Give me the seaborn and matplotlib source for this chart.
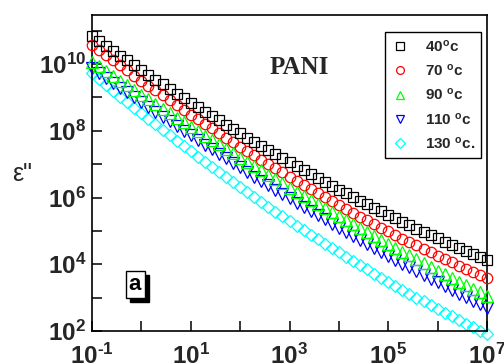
import numpy as np
import pandas as pd
import matplotlib
matplotlib.use("Agg")
import matplotlib.pyplot as plt
import seaborn as sns
from matplotlib.ticker import FixedLocator, FixedFormatter, NullFormatter

# ---------------- data ----------------
freq = np.logspace(-1, 7, 57)  # frequency sweep (Hz), 7 points per decade

log_eps_40 = [10.85, 10.70, 10.55, 10.40, 10.25, 10.11, 9.96, 9.82, 9.67, 9.53,
              9.39, 9.25, 9.11, 8.98, 8.84, 8.71, 8.57, 8.44, 8.31, 8.18,
              8.05, 7.92, 7.79, 7.66, 7.54, 7.42, 7.29, 7.17, 7.05, 6.93,
              6.81, 6.70, 6.58, 6.46, 6.35, 6.24, 6.13, 6.02, 5.91, 5.80,
              5.69, 5.59, 5.48, 5.38, 5.27, 5.17, 5.07, 4.97, 4.87, 4.78,
              4.68, 4.59, 4.49, 4.40, 4.31, 4.22, 4.13]
log_eps_70 = [10.58, 10.42, 10.27, 10.11, 9.96, 9.81, 9.65, 9.50, 9.35, 9.21,
              9.06, 8.91, 8.77, 8.63, 8.48, 8.34, 8.20, 8.07, 7.93, 7.79,
              7.66, 7.52, 7.39, 7.26, 7.13, 7.00, 6.87, 6.75, 6.62, 6.50,
              6.37, 6.25, 6.13, 6.01, 5.89, 5.78, 5.66, 5.54, 5.43, 5.32,
              5.21, 5.10, 4.99, 4.88, 4.77, 4.67, 4.57, 4.46, 4.36, 4.26,
              4.16, 4.06, 3.96, 3.87, 3.77, 3.68, 3.59]
log_eps_90 = [10.07, 9.93, 9.78, 9.64, 9.50, 9.36, 9.22, 9.08, 8.94, 8.80,
              8.66, 8.53, 8.39, 8.26, 8.12, 7.99, 7.85, 7.72, 7.59, 7.46,
              7.32, 7.19, 7.06, 6.94, 6.81, 6.68, 6.55, 6.43, 6.30, 6.18,
              6.05, 5.93, 5.80, 5.68, 5.56, 5.44, 5.32, 5.20, 5.08, 4.96,
              4.84, 4.73, 4.61, 4.50, 4.38, 4.27, 4.15, 4.04, 3.93, 3.81,
              3.70, 3.59, 3.48, 3.37, 3.27, 3.16, 3.05]
log_eps_110 = [9.89, 9.74, 9.59, 9.44, 9.29, 9.15, 9.00, 8.86, 8.71, 8.57,
               8.42, 8.28, 8.14, 8.00, 7.86, 7.72, 7.58, 7.44, 7.31, 7.17,
               7.03, 6.90, 6.77, 6.63, 6.50, 6.37, 6.24, 6.11, 5.98, 5.85,
               5.73, 5.60, 5.47, 5.35, 5.22, 5.10, 4.98, 4.86, 4.73, 4.61,
               4.49, 4.38, 4.26, 4.14, 4.02, 3.91, 3.79, 3.68, 3.57, 3.46,
               3.34, 3.23, 3.12, 3.01, 2.91, 2.80, 2.69]
log_eps_130 = [9.72, 9.54, 9.37, 9.19, 9.02, 8.85, 8.68, 8.52, 8.35, 8.19,
               8.02, 7.86, 7.70, 7.54, 7.38, 7.22, 7.07, 6.91, 6.76, 6.61,
               6.46, 6.31, 6.16, 6.01, 5.87, 5.72, 5.58, 5.44, 5.30, 5.16,
               5.02, 4.89, 4.75, 4.62, 4.49, 4.36, 4.23, 4.10, 3.97, 3.85,
               3.72, 3.60, 3.48, 3.36, 3.24, 3.12, 3.00, 2.89, 2.77, 2.66,
               2.55, 2.44, 2.33, 2.22, 2.12, 2.01, 1.91]

series_labels = ["40$^{o}$c", "70 $^{o}$c", "90 $^{o}$c", "110 $^{o}$c", "130 $^{o}$c."]
series_values = [log_eps_40, log_eps_70, log_eps_90, log_eps_110, log_eps_130]
colors = ["#000000", "#ff0000", "#00ff00", "#0000ff", "#00ffff"]
markers = ["s", "o", "^", "v", "D"]
marker_sizes = [7.2, 7.5, 8.0, 8.0, 6.2]
zorders = [3.0, 2.8, 2.9, 2.6, 2.5]

xtick_major = [1e-1, 1e1, 1e3, 1e5, 1e7]
xtick_labels = ["$10^{\u2010 1}$", "$10^{1}$", "$10^{3}$", "$10^{5}$", "$10^{7}$"]
xtick_minor = [1e0, 1e2, 1e4, 1e6]
ytick_major = [1e2, 1e4, 1e6, 1e8, 1e10]
ytick_labels = ["$10^{2}$", "$10^{4}$", "$10^{6}$", "$10^{8}$", "$10^{10}$"]
ytick_minor = [1e3, 1e5, 1e7, 1e9, 1e11]

# ---------------- style ----------------
sns.set_style("ticks")
plt.rcParams["font.family"] = ["Liberation Sans", "DejaVu Sans"]
plt.rcParams["mathtext.fontset"] = "custom"
plt.rcParams["mathtext.bf"] = "Liberation Sans:bold"
plt.rcParams["mathtext.rm"] = "Liberation Sans:bold"
plt.rcParams["mathtext.it"] = "Liberation Sans:bold"
plt.rcParams["mathtext.default"] = "bf"

fig = plt.figure(figsize=(5.04, 3.63), dpi=100)
ax = fig.add_axes([92 / 504, 1 - 331 / 363, (487 - 92) / 504, (331 - 15) / 363])

frames = []
for lab, vals in zip(series_labels, series_values):
    frames.append(pd.DataFrame({"freq": freq, "eps": 10 ** np.asarray(vals), "T": lab}))
df = pd.concat(frames, ignore_index=True)

for lab, col, mk, ms, zo in zip(series_labels, colors, markers, marker_sizes, zorders):
    sub = df[df["T"] == lab]
    sns.lineplot(data=sub, x="freq", y="eps", ax=ax, linestyle="", marker=mk,
                 markersize=ms, markerfacecolor="none", markeredgecolor=col,
                 markeredgewidth=0.9, color=col, label=lab, clip_on=False,
                 estimator=None, sort=False, zorder=zo)

ax.set_xscale("log")
ax.set_yscale("log")
ax.set_xlim(1e-1, 1e7)
ax.set_ylim(1e2, 10 ** 11.47)

ax.xaxis.set_major_locator(FixedLocator(xtick_major))
ax.xaxis.set_major_formatter(FixedFormatter(xtick_labels))
ax.xaxis.set_minor_locator(FixedLocator(xtick_minor))
ax.xaxis.set_minor_formatter(NullFormatter())
ax.yaxis.set_major_locator(FixedLocator(ytick_major))
ax.yaxis.set_major_formatter(FixedFormatter(ytick_labels))
ax.yaxis.set_minor_locator(FixedLocator(ytick_minor))
ax.yaxis.set_minor_formatter(NullFormatter())

ax.tick_params(which="both", direction="in", length=7, width=1.1,
               top=False, right=False, color="black")
ax.tick_params(axis="both", which="major", labelsize=17.5)
ax.tick_params(axis="y", which="major", pad=4)
ax.tick_params(axis="x", which="major", pad=9)
for sp in ax.spines.values():
    sp.set_visible(True)
    sp.set_linewidth(1.2)
    sp.set_color("black")

ax.set_xlabel("")
ax.set_ylabel("")
fig.text(22 / 504, 1 - 174 / 363, 'ε"', fontsize=18, ha="center", va="center")

ax.text(0.525, 0.835, "PANI", transform=ax.transAxes, ha="center", va="center",
        fontsize=18, fontweight="bold", family=["Liberation Serif", "DejaVu Serif"])

# "a" panel label with drop shadow
ax.annotate("a", xy=(0.109, 0.147), xycoords="axes fraction", xytext=(4, -4),
            textcoords="offset pixels", ha="center", va="center", fontsize=16,
            fontweight="bold", color="black",
            bbox=dict(boxstyle="square,pad=0.15", fc="black", ec="black", lw=1))
ax.annotate("a", xy=(0.109, 0.147), xycoords="axes fraction", ha="center",
            va="center", fontsize=16, fontweight="bold", color="black",
            bbox=dict(boxstyle="square,pad=0.15", fc="white", ec="black", lw=1))

leg = ax.legend(loc="upper right", bbox_to_anchor=(0.985, 0.946), frameon=True,
                fancybox=False, shadow=False, borderpad=0.4, labelspacing=0.55,
                handlelength=1.2, handletextpad=1.0, borderaxespad=0.0,
                markerscale=0.75, prop=dict(weight="bold", size=11))
leg.get_frame().set_edgecolor("black")
leg.get_frame().set_linewidth(1.0)
leg.get_frame().set_alpha(1)
leg.set_zorder(5)

fig.savefig("out.png", dpi=100)
